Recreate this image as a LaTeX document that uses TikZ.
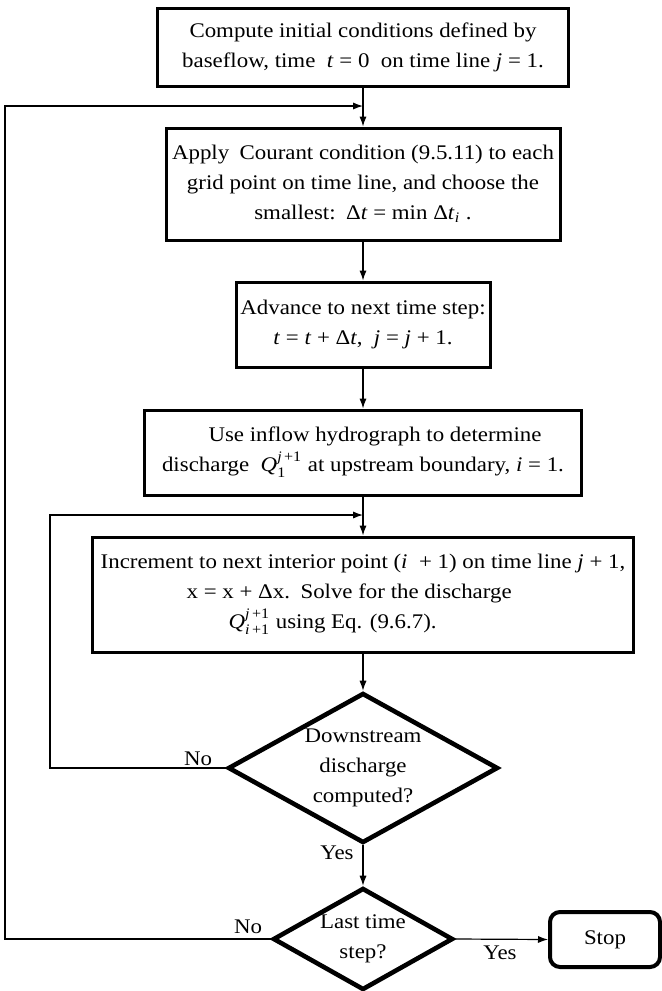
\documentclass[tikz,border=0pt]{standalone}
\usepackage{amsmath}
\usepackage{fontspec}
\setmainfont[FakeStretch=1.1]{Liberation Serif}
\usetikzlibrary{shapes.geometric,arrows.meta}
\begin{document}
\begin{tikzpicture}[x=0.5pt,y=-0.5pt,
  txt/.style={font=\fontsize{10.4}{15}\selectfont},
  box/.style={draw,line width=1.5pt,align=center,inner sep=0pt,txt},
  dec/.style={draw,diamond,line width=2.3pt,align=center,inner sep=-12pt,aspect=1.8,txt},
  endbox/.style={draw,line width=2pt,rounded corners=5pt,inner sep=0pt,txt},
  conn/.style={line width=0.6pt,-{Latex[length=5pt,width=3.6pt]}},
  lab/.style={txt,inner sep=0pt}]
\useasboundingbox (0,0) rectangle (662,991);

\node[box,minimum width=205.5pt,minimum height=39pt] (b1) at (363,47)
  {Compute initial conditions defined by\\ baseflow, time \ \textit{t} = 0 \ on time line \textit{j} = 1.};
\node[box,minimum width=197pt,minimum height=56pt] (b2) at (363,184)
  {Apply\enspace Courant condition (9.5.11) to each\\ grid point on time line, and choose the\\ smallest:\enspace Δ\textit{t} = min Δ\textit{t}$_{\text{\textit{i}}}$ .};
\node[box,minimum width=127pt,minimum height=42.5pt] (b3) at (363,324.5)
  {Advance to next time step:\\ \textit{t} = \textit{t} + Δ\textit{t}, \ \textit{j} = \textit{j} + 1.};
\node[box,minimum width=218.5pt,minimum height=42.5pt] (b4) at (363,452.5)
  {\hspace*{12pt}Use inflow hydrograph to determine\\ discharge \ \textit{Q}$^{\text{\textit{j}\,+1}}_{\text{1}}$ at upstream boundary, \textit{i} = 1.};
\node[box,align=left,minimum width=270.5pt,minimum height=57.5pt] (b5) at (363,594.5)
  {Increment to next interior point (\textit{i} \ + 1) on time line \textit{j} + 1,\\
   \hspace*{43pt}x = x + Δx.\enspace Solve for the discharge\\
   \hspace*{64pt}\textit{Q}$^{\text{\textit{j}\,+1}}_{\text{\textit{i}\,+1}}$ using Eq. (9.6.7).};
\node[dec,minimum width=135pt,minimum height=75pt] (d1) at (363,768)
  {Downstream\\ discharge\\ computed?};
\node[dec,minimum width=90pt,minimum height=51pt] (d2) at (363,939)
  {Last time\\ step?};
\node[endbox,minimum width=55pt,minimum height=27.5pt] (stop) at (605,939.5) {Stop};

\node[lab] (no1) at (198,759) {No};
\node[lab] (yes1) at (337,853) {Yes};
\node[lab] (no2) at (248,927) {No};
\node[lab] (yes2) at (500,953) {Yes};

\coordinate (fb1) at (363,106);
\coordinate (outer) at (5,106);
\coordinate (fb2) at (363,515);
\coordinate (inner) at (50,515);

\draw[conn] (b1.south) -- (b2.north);
\draw[conn] (b2.south) -- (b3.north);
\draw[conn] (b3.south) -- (b4.north);
\draw[conn] (b4.south) -- (b5.north);
\draw[conn] (b5.south) -- (d1.north);
\draw[conn] (d1.south) -- (d2.north);
\draw[conn] (d2.east) -- (stop.west);
\draw[conn] (d2.west) -| (outer) -- (fb1);
\draw[conn] (d1.west) -| (inner) -- (fb2);
\end{tikzpicture}
\end{document}
